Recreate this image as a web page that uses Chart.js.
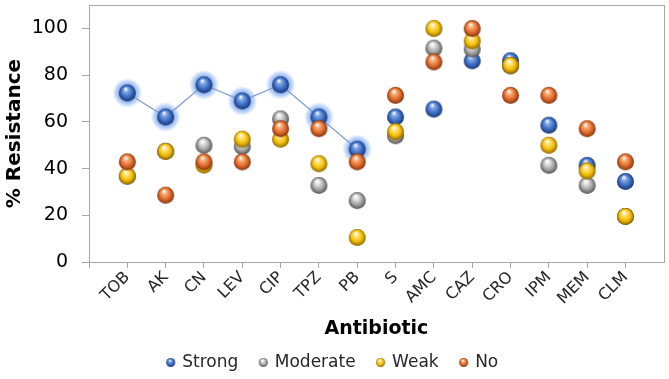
<!DOCTYPE html>
<html lang="en">
<head>
<meta charset="UTF-8">
<title>Resistance by antibiotic</title>
<script src="https://cdn.jsdelivr.net/npm/chart.js"></script>
<style>
  html, body { margin: 0; padding: 0; background: #fff; }
</style>
</head>
<body>
<canvas id="resChart" width="669" height="379"></canvas>
<script>
// values (% resistance)
const antibiotics = ['TOB', 'AK', 'CN', 'LEV', 'CIP', 'TPZ', 'PB', 'S', 'AMC', 'CAZ', 'CRO', 'IPM', 'MEM', 'CLM'];
const strong   = [72.4, 62.1, 75.9, 69.0, 75.9, 62.1, 48.3, 62.1, 65.5, 86.2, 86.2, 58.6, 41.4, 34.5];
const moderate = [36.8, 47.4, 50.0, 49.5, 61.3, 32.8, 26.3, 54.1, 91.6, 91.2, 84.0, 41.4, 32.8, 19.5];
const weak     = [36.8, 47.4, 41.5, 52.6, 52.6, 42.1, 10.5, 55.8, 100, 94.7, 84.2, 50.0, 39.0, 19.5];
const noBiofilm = [42.9, 28.6, 42.9, 42.9, 57.1, 57.1, 42.9, 71.4, 85.7, 100, 71.4, 71.4, 57.1, 42.9];
const yTicks = [0, 20, 40, 60, 80, 100];
const linkedCount = 7; // first Strong points joined by a line, with a glow

const FONT = "'DejaVu Sans', sans-serif";

// little shaded balls used as point markers
function sphere(light, mid, dark, r) {
  const c = document.createElement('canvas');
  const s = Math.ceil(r * 2 + 2);
  c.width = s; c.height = s;
  const g = c.getContext('2d');
  const cx = s / 2, cy = s / 2;
  const grad = g.createRadialGradient(cx - r * 0.2, cy - r * 0.5, r * 0.05, cx, cy, r);
  grad.addColorStop(0, '#ffffff');
  grad.addColorStop(0.25, light);
  grad.addColorStop(0.65, mid);
  grad.addColorStop(1, dark);
  g.fillStyle = grad;
  g.beginPath();
  g.arc(cx, cy, r, 0, Math.PI * 2);
  g.fill();
  return c;
}

const palette = {
  Strong:   ['#7fa6e6', '#3b6cc2', '#1c3670'],
  Moderate: ['#e2e2e2', '#a3a3a3', '#555555'],
  Weak:     ['#ffe27a', '#f2bd00', '#8c6500'],
  No:       ['#f7ad78', '#e0692a', '#823410']
};
const bigBall = {}, smallBall = {};
Object.keys(palette).forEach(k => {
  bigBall[k] = sphere(...palette[k], 8.5);
  smallBall[k] = sphere(...palette[k], 4.5);
});

function pts(arr) {
  return arr.map((v, i) => ({ x: i + 1, y: v }));
}

const glowPlugin = {
  id: 'glow',
  beforeDatasetsDraw(chart) {
    const ctx = chart.ctx;
    const meta = chart.getDatasetMeta(0);
    ctx.save();
    meta.data.slice(0, linkedCount).forEach(p => {
      const g = ctx.createRadialGradient(p.x, p.y, 5, p.x, p.y, 15);
      g.addColorStop(0, 'rgba(80,140,235,0.9)');
      g.addColorStop(0.6, 'rgba(110,160,240,0.5)');
      g.addColorStop(1, 'rgba(130,175,245,0)');
      ctx.fillStyle = g;
      ctx.beginPath();
      ctx.arc(p.x, p.y, 15, 0, Math.PI * 2);
      ctx.fill();
    });
    ctx.restore();
  }
};

const framePlugin = {
  id: 'frame',
  afterDraw(chart) {
    const a = chart.chartArea;
    const ctx = chart.ctx;
    ctx.save();
    ctx.strokeStyle = '#a6a6a6';
    ctx.lineWidth = 1;
    ctx.strokeRect(Math.round(a.left) + 0.5, Math.round(a.top) + 0.5,
                   Math.round(a.right - a.left), Math.round(a.bottom - a.top));
    ctx.restore();
  }
};

const ctx = document.getElementById('resChart').getContext('2d');
new Chart(ctx, {
  type: 'scatter',
  data: {
    datasets: [
      {
        label: 'Strong',
        data: pts(strong),
        pointStyle: bigBall.Strong,
        showLine: true,
        borderColor: '#7f9dd2',
        borderWidth: 1.2,
        segment: {
          borderColor: c => c.p1DataIndex < linkedCount ? '#7f9dd2' : 'rgba(0,0,0,0)'
        },
        order: 3
      },
      { label: 'Moderate', data: pts(moderate), pointStyle: bigBall.Moderate, order: 2 },
      { label: 'Weak', data: pts(weak), pointStyle: bigBall.Weak, order: 1 },
      { label: 'No', data: pts(noBiofilm), pointStyle: bigBall.No, order: 0 }
    ]
  },
  options: {
    responsive: false,
    animation: false,
    layout: { padding: { left: 0, top: 5, right: 3, bottom: -2 } },
    scales: {
      x: {
        type: 'linear',
        min: 0,
        max: antibiotics.length + 1,
        afterBuildTicks: s => { s.ticks = [0].concat(antibiotics.map((_, i) => i + 1)).map(v => ({ value: v })); },
        afterFit: s => { s.height = 70; s.paddingLeft = 0; s.paddingRight = 0; },
        ticks: {
          autoSkip: false,
          minRotation: 45,
          maxRotation: 45,
          padding: 0,
          color: '#262626',
          font: { family: FONT, size: 16 },
          callback: v => antibiotics[v - 1] || ''
        },
        grid: { display: true, drawOnChartArea: false, tickLength: 6, color: '#a6a6a6' },
        border: { color: '#a6a6a6' },
        title: {
          display: true,
          text: 'Antibiotic',
          color: '#000',
          font: { family: FONT, size: 19, weight: 'bold' },
          padding: { top: 0, bottom: -8 }
        }
      },
      y: {
        min: 0,
        max: 110,
        afterBuildTicks: s => { s.ticks = yTicks.map(v => ({ value: v })); },
        afterFit: s => { s.width = 89; s.paddingTop = 0; s.paddingBottom = 0; },
        ticks: { padding: 14, color: '#000', font: { family: FONT, size: 19 } },
        grid: { display: true, drawOnChartArea: false, tickLength: 7, color: '#a6a6a6' },
        border: { color: '#a6a6a6' },
        title: {
          display: true,
          text: '% Resistance',
          color: '#000',
          font: { family: FONT, size: 20, weight: 'bold' },
          padding: { top: 3, bottom: 0 }
        }
      }
    },
    plugins: {
      legend: {
        position: 'bottom',
        labels: {
          usePointStyle: true,
          boxWidth: 6,
          padding: 22,
          color: '#262626',
          font: { family: FONT, size: 17 },
          generateLabels: chart => chart.data.datasets.map((d, i) => ({
            text: d.label,
            pointStyle: smallBall[d.label],
            fillStyle: 'transparent',
            strokeStyle: 'transparent',
            lineWidth: 0,
            hidden: false,
            datasetIndex: i,
            fontColor: '#262626'
          }))
        }
      },
      tooltip: { enabled: false }
    }
  },
  plugins: [glowPlugin, framePlugin]
});
</script>
</body>
</html>
